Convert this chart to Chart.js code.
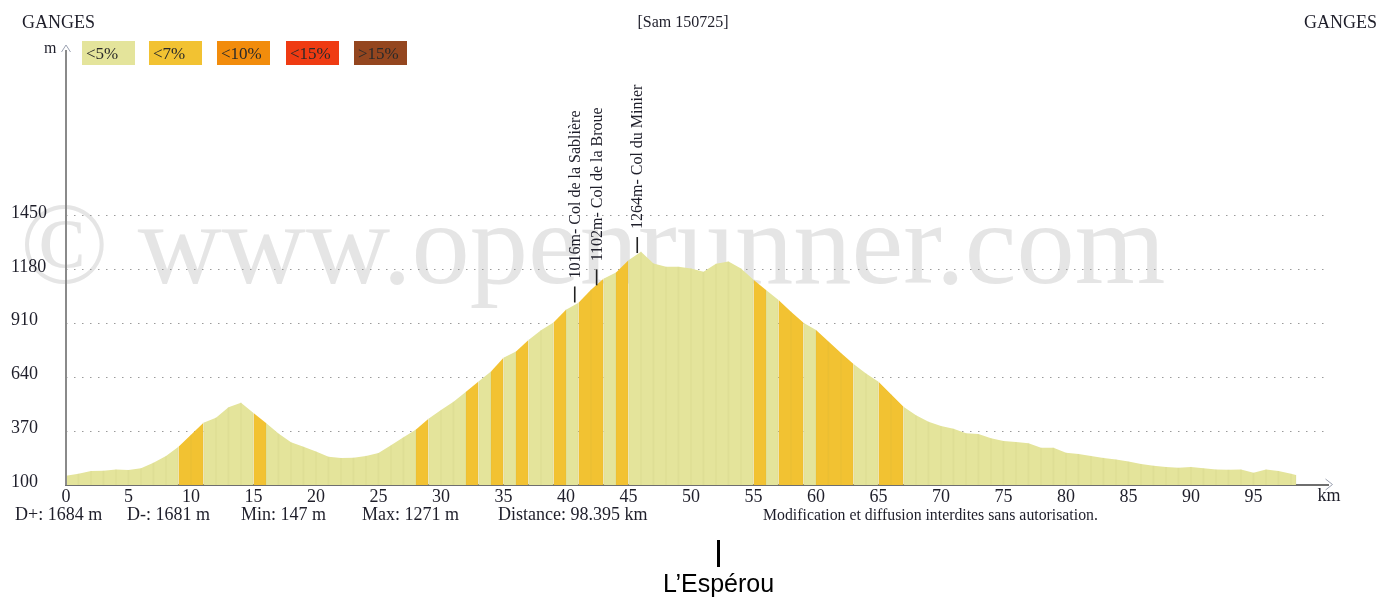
<!DOCTYPE html>
<html><head><meta charset="utf-8">
<script src="https://cdn.jsdelivr.net/npm/chart.js@4.4.0/dist/chart.umd.min.js"></script>
<style>html,body{margin:0;padding:0;background:#fff;}canvas{display:block}</style>
</head><body>
<canvas id="c" width="1391" height="597"></canvas>
<script>
// ---- data ----
const kmPoints = [0,1,2,3,4,5,6,7,8,9,10,11,12,13,14,15,16,17,18,19,20,21,22,23,24,25,26,27,28,29,30,31,32,33,34,35,36,37,38,39,40,41,42,43,44,45,46,47,48,49,50,51,52,53,54,55,56,57,58,59,60,61,62,63,64,65,66,67,68,69,70,71,72,73,74,75,76,77,78,79,80,81,82,83,84,85,86,87,88,89,90,91,92,93,94,95,96,97,98,98.4];
const elevations = [147,157,170,172,178,175,184,212,245,292,352,413,438,490,513,461,411,358,315,292,268,242,235,237,246,260,300,340,378,433,476,518,568,620,670,738,770,828,876,915,980,1015,1080,1135,1167,1228,1271,1212,1195,1195,1187,1170,1210,1222,1187,1130,1078,1028,970,914,878,820,762,707,660,618,555,493,450,418,396,382,360,356,334,321,316,310,287,287,262,255,245,236,228,218,205,197,190,186,190,184,178,176,178,162,178,170,156,150];
// sections classed "<7%"
const steepBands = [[9,11],[15,16],[28,29],[32,33],[34,35],[36,37],[39,40],[41,43],[44,45],[55,56],[57,59],[60,63],[65,67]];
const xTicks = [0,5,10,15,20,25,30,35,40,45,50,55,60,65,70,75,80,85,90,95];
const yTicks = [100,370,640,910,1180,1450];
const colNames = ["1016m- Col de la Sablière","1102m- Col de la Broue","1264m- Col du Minier"];
const colKm = [40.7,42.45,45.7];
const colElev = [1016,1102,1264];
const legendLabels = ["<5%","<7%","<10%","<15%",">15%"];
const legendColors = ["#e4e49b","#f2c232","#f28c0c","#ef3b12","#94461f"];
const statTexts = ["D+: 1684 m","D-: 1681 m","Min: 147 m","Max: 1271 m","Distance: 98.395 km"];
const placeName = "L\u2019Espérou";
const placeKm = 52.2;

const C5 = legendColors[0], C7 = legendColors[1];
const SERIF = '"Liberation Serif", "DejaVu Serif", serif';
const pts = kmPoints.map((k,i)=>({x:k,y:elevations[i]}));

const decor = {
  id:'decor',
  beforeDraw(chart){
    const c = chart.ctx;
    c.save();
    c.fillStyle = '#e5e5e5';
    c.font = '116.5px ' + SERIF;
    c.textBaseline = 'alphabetic';
    c.textAlign = 'left';
    c.fillText('\u00A9 www.openrunner.com', 20, 283);
    c.restore();
  },
  afterDraw(chart){
    const c = chart.ctx, a = chart.chartArea;
    const xs = chart.scales.x, ys = chart.scales.y;
    c.save();
    // y axis line + arrow
    c.strokeStyle = '#8a8a8a'; c.lineWidth = 2;
    c.beginPath(); c.moveTo(a.left, 50); c.lineTo(a.left, a.bottom); c.stroke();
    c.lineWidth = 1; c.strokeStyle = '#9aa0b0';
    c.beginPath(); c.moveTo(a.left-4.5, 52); c.lineTo(a.left, 45); c.lineTo(a.left+4.5, 52); c.stroke();
    // x arrow
    c.beginPath(); c.moveTo(a.right-3, 479); c.lineTo(a.right+4, 484.5); c.lineTo(a.right-3, 490); c.stroke();
    // header
    c.fillStyle = '#1e1e2a';
    c.font = '18px ' + SERIF; c.textBaseline = 'alphabetic';
    c.textAlign = 'left'; c.fillText('GANGES', 22, 28);
    c.textAlign = 'right'; c.fillText('GANGES', 1377, 28);
    c.font = '16px ' + SERIF; c.textAlign = 'center'; c.fillText('[Sam 150725]', 683, 27);
    c.font = '16px ' + SERIF; c.textAlign = 'left'; c.fillText('m', 44, 53);
    c.font = '18px ' + SERIF; c.textAlign = 'center'; c.fillText('km', 1329, 501);
    // legend
    const lx = [82,149,217,286,354];
    legendLabels.forEach((t,i)=>{
      c.fillStyle = legendColors[i];
      c.fillRect(lx[i], 41, 53, 24);
      c.fillStyle = '#2a2a2a';
      c.font = '17px ' + SERIF; c.textAlign = 'left';
      c.fillText(t, lx[i]+4, 59);
    });
    // stats
    const sx = [15,127,241,362,498];
    c.fillStyle = '#1e1e2a'; c.font = '18px ' + SERIF; c.textAlign = 'left';
    statTexts.forEach((t,i)=> c.fillText(t, sx[i], 520));
    c.font = '15.8px ' + SERIF;
    c.fillText('Modification et diffusion interdites sans autorisation.', 763, 520);
    // col annotations
    colNames.forEach((t,i)=>{
      const x = xs.getPixelForValue(colKm[i]);
      const y = ys.getPixelForValue(colElev[i]);
      c.strokeStyle = '#222'; c.lineWidth = 1.6;
      c.beginPath(); c.moveTo(x, y); c.lineTo(x, y-16); c.stroke();
      c.save();
      c.translate(x+5, y-24);
      c.rotate(-Math.PI/2);
      c.fillStyle = '#1e1e2a'; c.font = '16px ' + SERIF; c.textAlign = 'left';
      c.fillText(t, 0, 0);
      c.restore();
    });
    // place label below chart
    const px = xs.getPixelForValue(placeKm);
    c.fillStyle = '#000';
    c.fillRect(px-1.5, 540, 3, 27);
    c.font = '25px "Liberation Sans", Arial, sans-serif'; c.textAlign = 'center';
    c.fillText(placeName, px, 592);
    c.restore();
  }
};

new Chart(document.getElementById('c'), {
  type: 'line',
  data: {
    datasets: [
      {
        type: 'bar',
        data: pts,
        backgroundColor: 'rgba(150,150,70,0.07)',
        barThickness: 1,
        order: 0
      },
      {
        data: pts,
        fill: 'start',
        backgroundColor: C5,
        borderWidth: 0,
        borderColor: 'rgba(0,0,0,0)',
        pointRadius: 0,
        tension: 0,
        order: 1,
        segment: {
          backgroundColor: ctx => {
            const m = (ctx.p0.parsed.x + ctx.p1.parsed.x) / 2;
            return steepBands.some(b => m > b[0] && m < b[1]) ? C7 : C5;
          }
        }
      }
    ]
  },
  options: {
    responsive: false,
    animation: false,
    layout: { padding: { left: 11, top: 48, right: 62.5, bottom: 92 } },
    plugins: { legend: { display: false }, tooltip: { enabled: false } },
    scales: {
      x: {
        type: 'linear', min: 0, max: 101, offset: false,
        afterBuildTicks: s => { s.ticks = xTicks.map(v => ({ value: v })); },
        afterFit: s => { s.height = 20; },
        grid: { display: false, drawTicks: false },
        border: { display: true, color: '#6e6e6e', width: 2 },
        ticks: { autoSkip: false, maxRotation: 0, padding: 1, color: '#1e1e2a',
                 font: { family: SERIF, size: 18 }, callback: v => String(v) }
      },
      y: {
        type: 'linear', min: 100, max: 2293,
        afterBuildTicks: s => { s.ticks = yTicks.map(v => ({ value: v })); },
        afterFit: s => { s.width = 55; },
        grid: { color: '#9a9a9a', lineWidth: 1, drawTicks: false },
        border: { display: false, dash: [1.5, 6.5] },
        ticks: { crossAlign: 'far', labelOffset: -3, padding: 0, color: '#1e1e2a',
                 font: { family: SERIF, size: 18 }, callback: v => String(v) }
      }
    }
  },
  plugins: [decor]
});
</script>
</body></html>
